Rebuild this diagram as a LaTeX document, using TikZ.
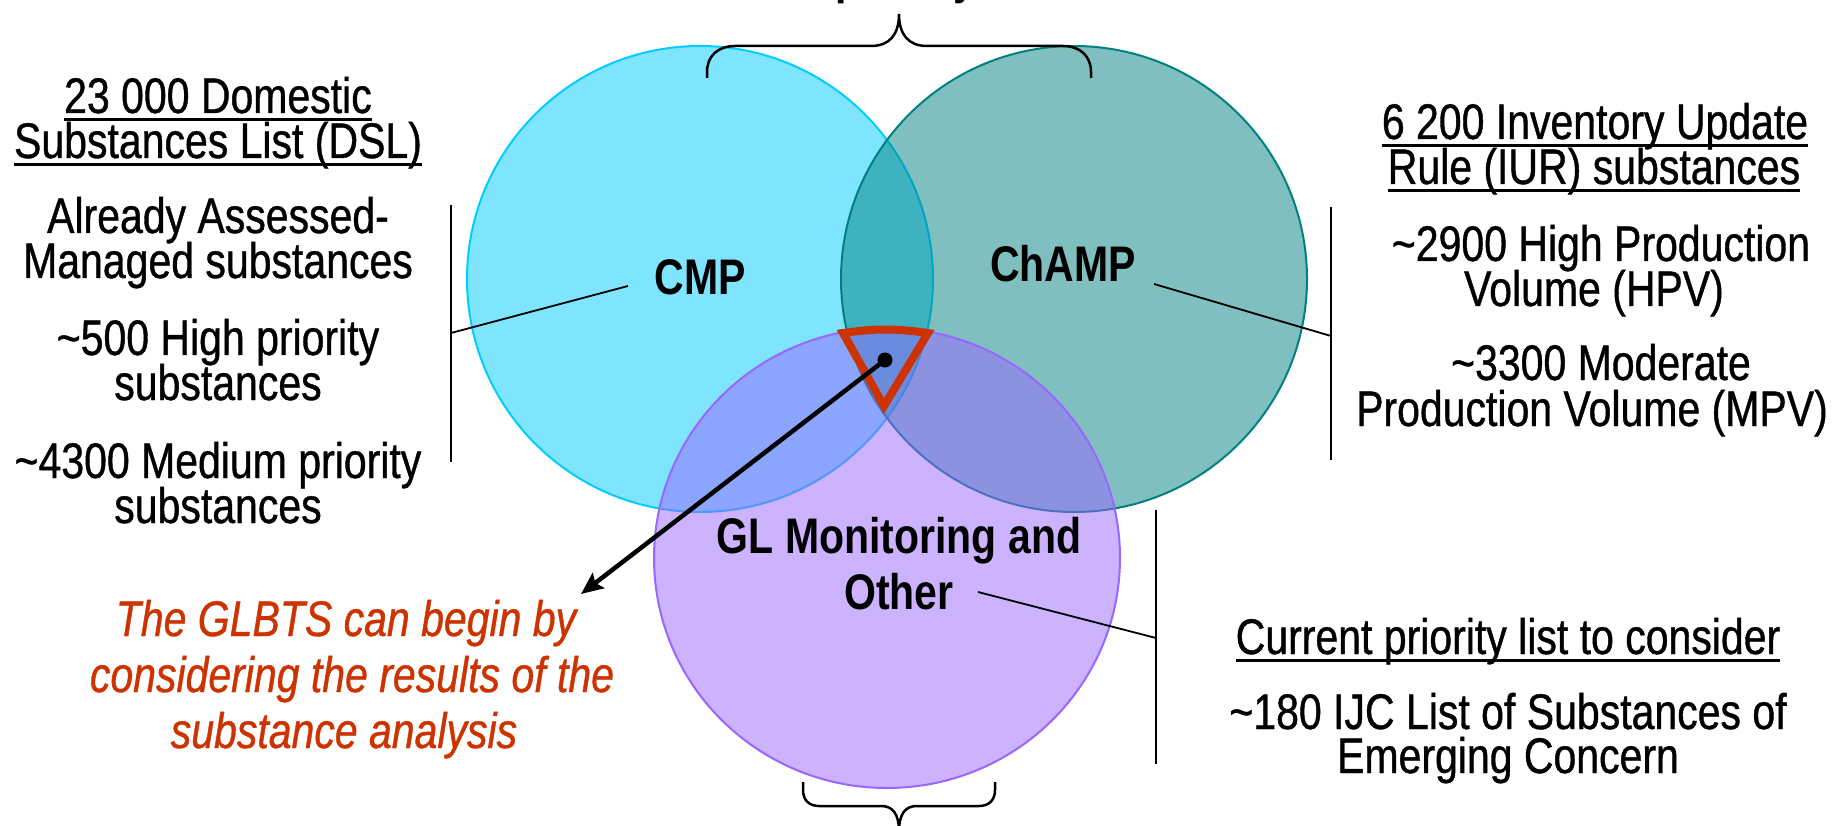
\documentclass[tikz,border=0pt]{standalone}
\usepackage{fontspec}
\setmainfont{Liberation Sans}
\newfontfamily\narrowfont{Liberation Sans}[FakeStretch=0.82]
\newfontfamily\narrowheavy{Liberation Sans}[FakeStretch=0.82, FakeBold=0.8]
\usetikzlibrary{arrows.meta}
\definecolor{cmpc}{RGB}{0,204,255}
\definecolor{champc}{RGB}{0,128,128}
\definecolor{glc}{RGB}{153,102,255}
\definecolor{redc}{RGB}{204,51,0}
\newcommand\myul[1]{\setbox0\hbox{#1}\rlap{\vrule height -5pt depth 7.7pt width \wd0}\box0}
\tikzset{
  txt/.style={font=\narrowheavy\fontsize{50}{45}\selectfont, anchor=base, inner sep=0pt, text height=34pt, text depth=7pt},
  lbl/.style={font=\narrowfont\bfseries\fontsize{50}{56}\selectfont, anchor=base, inner sep=0pt, text height=36pt, text depth=9pt},
  note/.style={font=\narrowheavy\itshape\fontsize{50}{56}\selectfont, text=redc, anchor=base, inner sep=0pt, text height=36pt, text depth=9pt},
  thinline/.style={line width=1.8pt},
  barline/.style={line width=2pt},
  venn/.style={line width=2pt, fill opacity=0.5},
  bracepath/.style={line width=2.5pt},
  redtri/.style={draw=redc, line width=8pt},
  pointer/.style={line width=4.5pt, -{Stealth[length=22pt, width=19pt, inset=4pt]}}
}
\begin{document}
\begin{tikzpicture}[x=1pt, y=-1pt]
\useasboundingbox (0,0) rectangle (1837,826);
% circles
\draw[venn, draw=cmpc, fill=cmpc] (700,279) circle[radius=233pt];
\draw[venn, draw=champc, fill=champc] (1074,279) circle[radius=233pt];
\draw[venn, draw=glc, fill=glc] (887,558) ellipse[x radius=233pt, y radius=230pt];
% braces
\draw[bracepath] (707,78) -- (707,72) .. controls (707,56) and (718,46) .. (735,46) -- (871,46) .. controls (890,46) and (899,34) .. (899,14) .. controls (899,34) and (908,46) .. (927,46) -- (1063,46) .. controls (1080,46) and (1091,56) .. (1091,72) -- (1091,78);
\draw[bracepath] (803,782) -- (803,790) .. controls (803,800) and (809,806) .. (819,806) -- (881,806) .. controls (893,806) and (899,814) .. (899,832) .. controls (899,814) and (905,806) .. (917,806) -- (979,806) .. controls (989,806) and (995,800) .. (995,790) -- (995,782);
\node[lbl] (top) at (906,-6.5) {priority};
% labels
\node[lbl] (cmp) at (700,295) {CMP};
\node[lbl] (champ) at (1063,282) {ChAMP};
\node[lbl] (gl1) at (899,553) {GL Monitoring and};
\node[lbl] (gl2) at (899,609) {Other};
% left text
\node[txt] (l1) at (218,113) {\myul{23 000 Domestic}};
\node[txt] (l2) at (218,158) {\myul{Substances List (DSL)}};
\node[txt] (l3) at (218,233) {Already Assessed-};
\node[txt] (l4) at (218,278) {Managed substances};
\node[txt] (l5) at (218,355) {\textasciitilde 500 High priority};
\node[txt] (l6) at (218,400) {substances};
\node[txt] (l7) at (218,478) {\textasciitilde 4300 Medium priority};
\node[txt] (l8) at (218,523) {substances};
% right text
\node[txt] (r1) at (1595,139) {\myul{6 200 Inventory Update}};
\node[txt] (r2) at (1594,184) {\myul{Rule (IUR) substances}};
\node[txt] (r3) at (1601,261) {\textasciitilde 2900 High Production};
\node[txt] (r4) at (1594,306) {Volume (HPV)};
\node[txt] (r5) at (1601,380) {\textasciitilde 3300 Moderate};
\node[txt] (r6) at (1592,426) {Production Volume (MPV)};
% bottom right text
\node[txt] (b1) at (1508,654) {\myul{Current priority list to consider}};
\node[txt] (b2) at (1508,729) {\textasciitilde 180 IJC List of Substances of};
\node[txt] (b3) at (1508,773) {Emerging Concern};
% red note
\node[note] (n1) at (346,636) {The GLBTS can begin by};
\node[note] (n2) at (352,692) {considering the results of the};
\node[note] (n3) at (344,748) {substance analysis};
% bars and connectors
\coordinate (lbarT) at (451,205); \coordinate (lbarB) at (451,462); \coordinate (lbarM) at (451,333);
\coordinate (rbarT) at (1331,207); \coordinate (rbarB) at (1331,460); \coordinate (rbarM) at (1331,336);
\coordinate (bbarT) at (1156,510); \coordinate (bbarB) at (1156,764); \coordinate (bbarM) at (1156,638);
\coordinate (cmpS) at (628,286);
\coordinate (champS) at (1154,284);
\coordinate (glS) at (978,592);
\draw[barline] (lbarT) -- (lbarB);
\draw[barline] (rbarT) -- (rbarB);
\draw[barline] (bbarT) -- (bbarB);
\draw[thinline] (cmpS) -- (lbarM);
\draw[thinline] (champS) -- (rbarM);
\draw[thinline] (glS) -- (bbarM);
% triangle, dot and arrow
\coordinate (tA) at (843,333); \coordinate (tB) at (928,333); \coordinate (tC) at (884,406);
\draw[redtri] (tA) to[bend left=8] (tB) -- (tC) -- cycle;
\coordinate (dot) at (885,360);
\coordinate (tip) at (581,594);
\fill (dot) circle[radius=7.5pt];
\draw[pointer] (dot) -- (tip);
\end{tikzpicture}
\end{document}
